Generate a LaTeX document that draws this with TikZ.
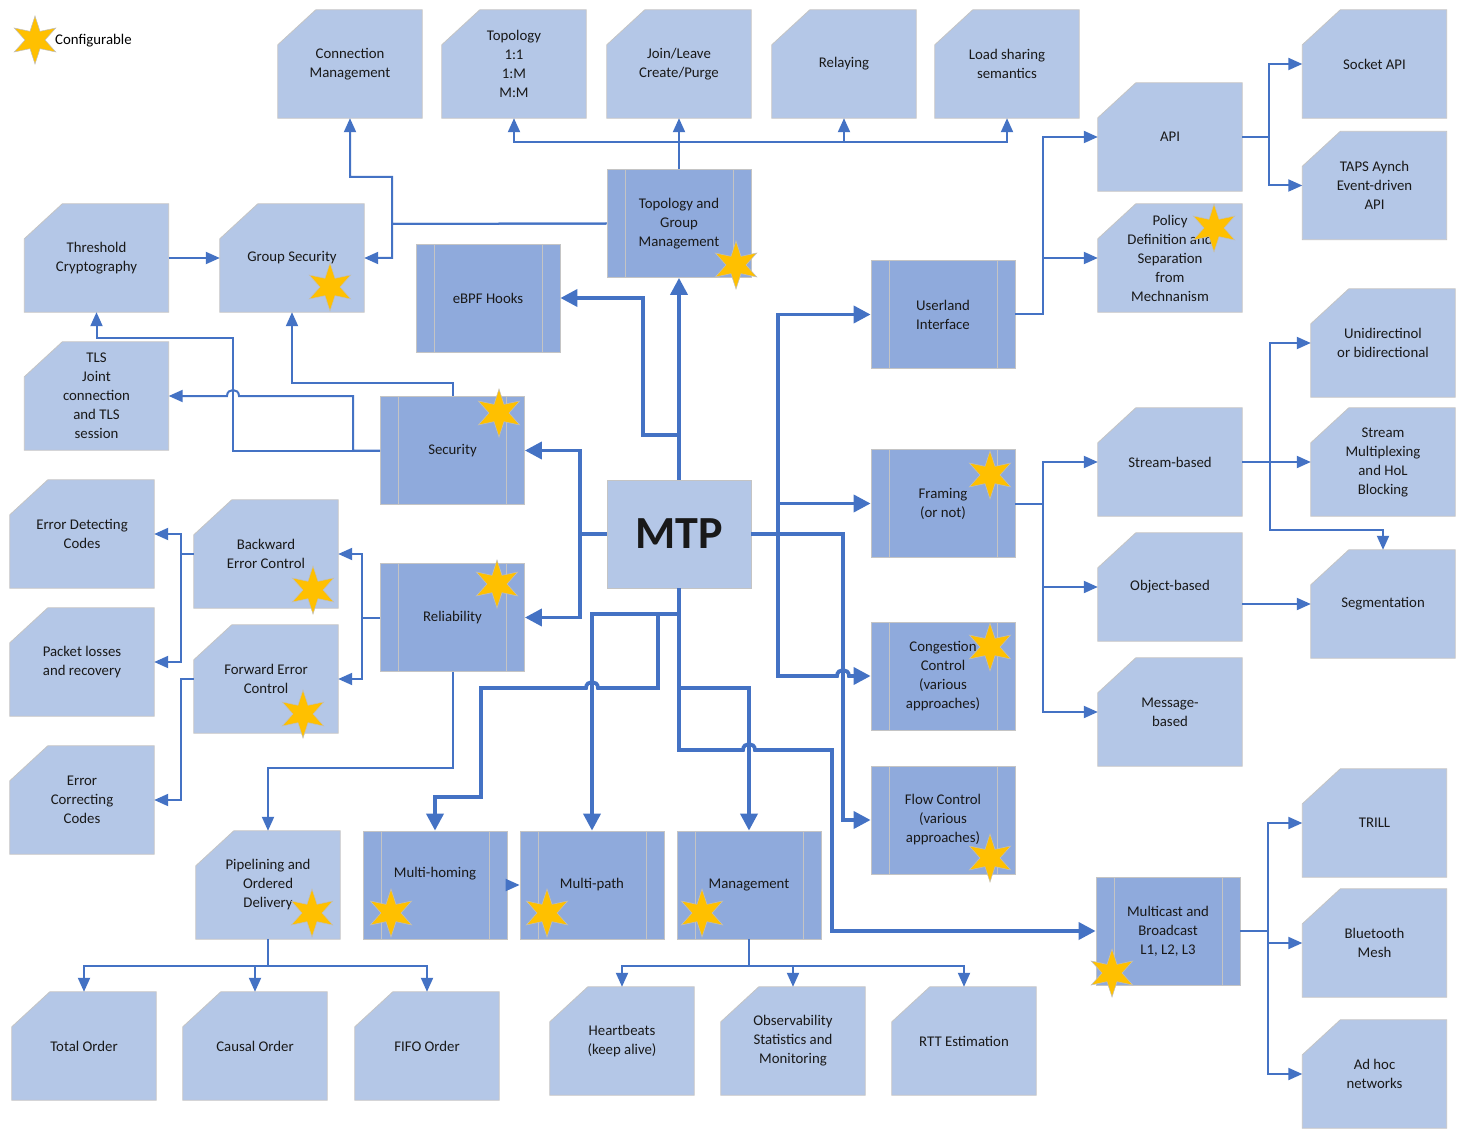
\documentclass[tikz,border=0pt]{standalone}
\usepackage{fontspec}
\setmainfont{Carlito}
\usetikzlibrary{arrows.meta,shapes.geometric,backgrounds}
\definecolor{cardfill}{HTML}{B4C7E7}
\definecolor{procfill}{HTML}{8FAADC}
\definecolor{edgegray}{HTML}{C4C4C4}
\definecolor{linkblue}{HTML}{4472C4}
\definecolor{stary}{HTML}{FFC000}
\tikzset{
  boxtext/.style={inner sep=0pt, minimum width=144pt, minimum height=108pt, align=center,
    font=\fontsize{14.8}{19}\selectfont, text=black!90},
  card/.style={boxtext},
  cardshape/.style={fill=cardfill, draw=edgegray, line width=0.8pt},
  proc/.style={boxtext, fill=procfill, draw=edgegray, line width=0.8pt,
    path picture={\draw[edgegray,line width=0.8pt]
      ([xshift=18pt]path picture bounding box.north west) -- ([xshift=18pt]path picture bounding box.south west)
      ([xshift=-18pt]path picture bounding box.north east) -- ([xshift=-18pt]path picture bounding box.south east);}},
  mtpbox/.style={boxtext, fill=cardfill, draw=edgegray, line width=0.8pt, font=\fontsize{46}{50}\selectfont\bfseries},
  thinlink/.style={draw=linkblue, line width=2pt, -{Triangle[length=14pt,width=12pt]}},
  thicklink/.style={draw=linkblue, line width=3.75pt, -{Triangle[length=17pt,width=17pt]}},
  cfgstar/.style={star, star points=6, star point ratio=2.4, inner sep=0pt, minimum size=48pt,
    fill=stary, draw=black!25, line width=0.5pt},
}
\newcommand\mkcard[4]{%
  \node[card] (#1) at (#2,#3) {#4};
  \begin{pgfonlayer}{background}
    \path[cardshape] ([yshift=-35pt]#1.north west) -- ([xshift=38pt]#1.north west) -- (#1.north east)
      -- (#1.south east) -- (#1.south west) -- cycle;
  \end{pgfonlayer}}
\begin{document}
\begin{tikzpicture}[x=1pt,y=-1pt]
\begin{pgfonlayer}{background}
\fill[white] (0,0) rectangle (1466,1139);
\end{pgfonlayer}
\useasboundingbox (0,0) rectangle (1466,1139);

% ---------- cards ----------
\mkcard{ConnMgmt}{350}{64}{Connection\\Management}
\mkcard{Topology}{514}{64}{Topology\\1:1\\1:M\\M:M}
\mkcard{JoinLeave}{679}{64}{Join/Leave\\Create/Purge}
\mkcard{Relaying}{844}{64}{Relaying}
\mkcard{LoadSharing}{1007}{64}{Load sharing\\semantics}
\mkcard{SocketAPI}{1374.5}{64}{Socket API}
\mkcard{API}{1170}{137}{API}
\mkcard{TAPS}{1374.5}{185.5}{TAPS Aynch\\Event-driven\\API}
\mkcard{Threshold}{96.5}{258}{Threshold\\Cryptography}
\mkcard{GroupSec}{292}{258}{Group Security}
\mkcard{Policy}{1170}{258}{Policy\\Definition and\\Separation\\from\\Mechnanism}
\mkcard{TLS}{96.5}{396}{TLS\\Joint\\connection\\and TLS\\session}
\mkcard{Unidir}{1383}{343}{Unidirectinol\\or bidirectional}
\mkcard{StreamB}{1170}{462}{Stream-based}
\mkcard{StreamMux}{1383}{462}{Stream\\Multiplexing\\and HoL\\Blocking}
\mkcard{ErrDet}{82}{534}{Error Detecting\\Codes}
\mkcard{Backward}{266}{554}{Backward\\Error Control}
\mkcard{ObjectB}{1170}{587}{Object-based}
\mkcard{Segment}{1383}{604}{Segmentation}
\mkcard{PacketLoss}{82}{662}{Packet losses\\and recovery}
\mkcard{Forward}{266}{679}{Forward Error\\Control}
\mkcard{MessageB}{1170}{712}{Message-\\based}
\mkcard{ErrCorr}{82}{800}{Error\\Correcting\\Codes}
\mkcard{TRILL}{1374.5}{823}{TRILL}
\mkcard{Pipelining}{268}{885}{Pipelining and\\Ordered\\Delivery}
\mkcard{Bluetooth}{1374.5}{943}{Bluetooth\\Mesh}
\mkcard{AdHoc}{1374.5}{1074}{Ad hoc\\networks}
\mkcard{TotalOrder}{84}{1046}{Total Order}
\mkcard{CausalOrder}{255}{1046}{Causal Order}
\mkcard{FIFOOrder}{427}{1046}{FIFO Order}
\mkcard{Heartbeats}{622}{1041}{Heartbeats\\(keep alive)}
\mkcard{Observ}{793}{1041}{Observability\\Statistics and\\Monitoring}
\mkcard{RTT}{964}{1041}{RTT Estimation}

% ---------- process boxes ----------
\node[proc] (TopoGroup) at (679,223.5) {Topology and\\Group\\Management};
\node[proc] (eBPF) at (488,298) {eBPF Hooks};
\node[proc] (Userland) at (943,314.5) {Userland\\Interface};
\node[proc] (Security) at (452.5,450.5) {Security};
\node[proc] (Framing) at (943,503.5) {Framing\\(or not)};
\node[proc] (Reliability) at (452.5,617.5) {Reliability};
\node[proc] (Congestion) at (943,676) {Congestion\\Control\\(various\\approaches)};
\node[proc] (FlowCtl) at (943,820) {Flow Control\\(various\\approaches)};
\node[proc] (MultiHoming) at (435,885) {Multi-homing\\\strut};
\node[proc] (MultiPath) at (592,885) {Multi-path};
\node[proc] (Management) at (749,885) {Management};
\node[proc] (Multicast) at (1168,931) {Multicast and\\Broadcast\\L1, L2, L3};
\node[mtpbox] (MTP) at (679,534) {MTP};

% ---------- thin connectors ----------
\draw[thinlink] (TopoGroup.north) -- (JoinLeave.south);
\draw[thinlink] (679,142) -| (Topology.south);
\draw[thinlink] (679,142) -| (Relaying.south);
\draw[thinlink] (679,142) -| (LoadSharing.south);
\draw[thinlink] (TopoGroup.west) -- (392,224) -- (392,177) -| (ConnMgmt.south);
\draw[thinlink] (TopoGroup.west) -- (392,224) |- (GroupSec.east);
\draw[thinlink] (Threshold.east) -- (GroupSec.west);
\draw[thinlink] (Security.north) -- (452.5,383) -| (GroupSec.south);
\draw[thinlink] (Security.west) -- (233,450.5) -- (233,338) -| (Threshold.south);
\draw[thinlink] (Security.west) -- (353,450.5) -- (353,396) -- (239,396)
  .. controls (239,388) and (227,388) .. (227,396) -- (TLS.east);
\draw[thinlink] (Reliability.west) -- (362,617.5) |- (Backward.east);
\draw[thinlink] (Reliability.west) -- (362,617.5) |- (Forward.east);
\draw[thinlink] (Backward.west) -- (181,554) |- (ErrDet.east);
\draw[thinlink] (Backward.west) -- (181,554) |- (PacketLoss.east);
\draw[thinlink] (Forward.west) -- (181,679) |- (ErrCorr.east);
\draw[thinlink] (Reliability.south) -- (452.5,768) -| (Pipelining.north);
\draw[thinlink] (Pipelining.south) -- (268,966) -| (TotalOrder.north);
\draw[thinlink] (Pipelining.south) -- (268,966) -| (CausalOrder.north);
\draw[thinlink] (Pipelining.south) -- (268,966) -| (FIFOOrder.north);
\draw[thinlink] (Management.south) -- (749,966) -| (Heartbeats.north);
\draw[thinlink] (Management.south) -- (749,966) -| (Observ.north);
\draw[thinlink] (Management.south) -- (749,966) -| (RTT.north);
\draw[thinlink] (MultiHoming.east) -- (MultiPath.west);
\draw[thinlink] (Userland.east) -- (1043,314.5) |- (API.west);
\draw[thinlink] (Userland.east) -- (1043,314.5) |- (Policy.west);
\draw[thinlink] (API.east) -- (1269,137) |- (SocketAPI.west);
\draw[thinlink] (API.east) -- (1269,137) |- (TAPS.west);
\draw[thinlink] (Framing.east) -- (1043,503.5) |- (StreamB.west);
\draw[thinlink] (Framing.east) -- (1043,503.5) |- (ObjectB.west);
\draw[thinlink] (Framing.east) -- (1043,503.5) |- (MessageB.west);
\draw[thinlink] (StreamB.east) -- (1270,462) |- (Unidir.west);
\draw[thinlink] (StreamB.east) -- (StreamMux.west);
\draw[thinlink] (StreamB.east) -- (1270,462) -- (1270,530) -| (Segment.north);
\draw[thinlink] (ObjectB.east |- Segment.west) -- (Segment.west);
\draw[thinlink] (Multicast.east) -- (1268,931) |- (TRILL.west);
\draw[thinlink] (Multicast.east) -- (1268,931) |- (Bluetooth.west);
\draw[thinlink] (Multicast.east) -- (1268,931) |- (AdHoc.west);

% ---------- thick connectors ----------
\draw[thicklink] (MTP.north) -- (TopoGroup.south);
\draw[thicklink] (MTP.north) -- (679,435) -- (643,435) |- (eBPF.east);
\draw[thicklink] (MTP.west) -- (580,534) |- (Security.east);
\draw[thicklink] (MTP.west) -- (580,534) |- (Reliability.east);
\draw[thicklink] (MTP.east) -- (778,534) |- (Userland.west);
\draw[thicklink] (MTP.east) -- (778,534) |- (Framing.west);
\draw[thicklink] (MTP.east) -- (778,534) -- (778,676) -- (837,676)
  .. controls (837,668) and (849,668) .. (849,676) -- (Congestion.west);
\draw[thicklink] (MTP.east) -- (843,534) |- (FlowCtl.west);
\draw[thicklink] (MTP.south) -- (679,614) -| (MultiPath.north);
\draw[thicklink] (MTP.south) -- (679,614) -- (658,614) -- (658,688) -- (598,688)
  .. controls (598,680) and (586,680) .. (586,688) -- (481,688) -- (481,797) -| (MultiHoming.north);
\draw[thicklink] (MTP.south) -- (679,688) -| (Management.north);
\draw[thicklink] (MTP.south) -- (679,750) -- (743,750)
  .. controls (743,742) and (755,742) .. (755,750) -- (832,750) |- (Multicast.west);

% ---------- configurable stars ----------
\node[cfgstar] (starLegend) at (35,40) {};
\node[anchor=west, inner sep=0pt, font=\fontsize{14.8}{19}\selectfont, text=black] (legendText) at (55,41) {Configurable};
\node[cfgstar] (sTopo) at (736,265) {};
\node[cfgstar] (sGroup) at (330,287) {};
\node[cfgstar] (sPolicy) at (1214,228) {};
\node[cfgstar] (sSec) at (499,413) {};
\node[cfgstar] (sFraming) at (990,475) {};
\node[cfgstar] (sBack) at (313,590) {};
\node[cfgstar] (sRel) at (497,584) {};
\node[cfgstar] (sForward) at (303,714) {};
\node[cfgstar] (sCong) at (990,647) {};
\node[cfgstar] (sFlow) at (990,858) {};
\node[cfgstar] (sPipe) at (312,913) {};
\node[cfgstar] (sHoming) at (391,913) {};
\node[cfgstar] (sPath) at (547,913) {};
\node[cfgstar] (sMgmt) at (702,913) {};
\node[cfgstar] (sMulticast) at (1112,973) {};
\end{tikzpicture}
\end{document}
